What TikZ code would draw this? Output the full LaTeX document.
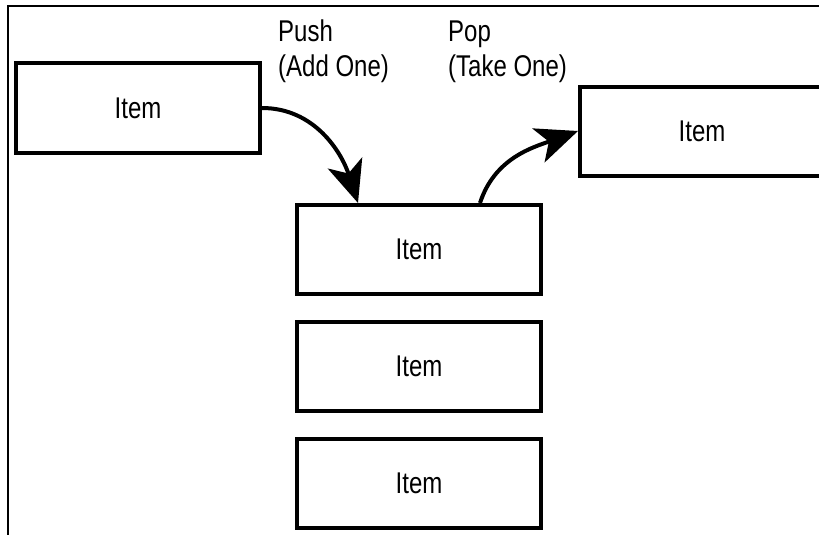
\documentclass[tikz,border=0pt]{standalone}
\usepackage{fontspec}
\setmainfont{Liberation Sans}
\usepackage{graphicx}
\usetikzlibrary{arrows.meta,positioning}

% narrow the text the way the drawing does
\newcommand{\squeeze}[1]{\scalebox{0.8}[1]{#1}}

\begin{document}
\begin{tikzpicture}[
  x=1pt,
  y=1pt,
  line join=miter,
  itembox/.style={draw=black,line width=4pt,minimum width=244pt,minimum height=89pt,
    inner sep=0pt,font=\fontsize{30}{35}\selectfont},
  tag/.style={anchor=base west,inner sep=0pt,font=\fontsize{30}{35}\selectfont},
  pushpop/.style={draw=black,line width=4pt,-{Stealth[length=42pt,width=36pt,inset=11pt]}},
  frame/.style={draw=black,line width=2.5pt}
]
  \useasboundingbox (0,0) rectangle (819,-535);

  % open frame round the scene
  \draw[frame] (8,-535) -- (8,-6) -- (819,-6);

  % the loose items
  \node[itembox] (newitem) at (138,-108) {\squeeze{Item}};
  \node[itembox] (popped) at (702,-131) {\squeeze{Item}};

  % the stack itself
  \node[itembox] (stack1) at (419,-249.5) {\squeeze{Item}};
  \node[itembox,below=24pt of stack1] (stack2) {\squeeze{Item}};
  \node[itembox,below=24pt of stack2] (stack3) {\squeeze{Item}};

  % operation names
  \node[tag] (pushlabel) at (278,-41.7)
    {\squeeze{\begin{tabular}[t]{@{}l@{}}Push\\(Add One)\end{tabular}}};
  \node[tag] (poplabel) at (448,-41.7)
    {\squeeze{\begin{tabular}[t]{@{}l@{}}Pop\\(Take One)\end{tabular}}};

  % push onto and pop off the top
  \draw[pushpop] (newitem.east) to[out=0,in=108] ([xshift=-61pt]stack1.north);
  \draw[pushpop] ([xshift=61pt]stack1.north) to[out=72,in=200] (popped.west);
\end{tikzpicture}
\end{document}
